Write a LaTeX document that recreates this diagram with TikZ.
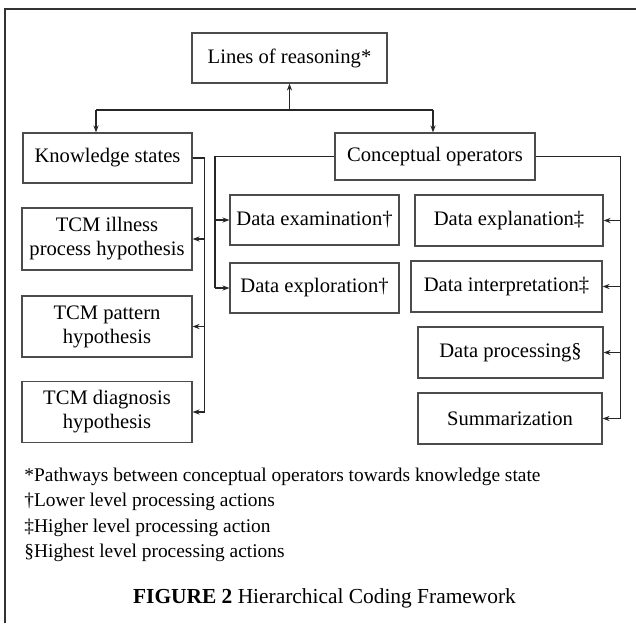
\documentclass[tikz,border=0pt]{standalone}
\usepackage{fontspec}
\setmainfont{Liberation Serif}
\usetikzlibrary{arrows.meta}

\tikzset{
  box/.style={draw=black!70, line width=0.6pt, align=center, inner sep=0.5pt,
    font=\fontsize{10.3}{12}\selectfont},
  link/.style={black!85, line width=0.55pt},
  note/.style={anchor=west, inner sep=0pt, font=\fontsize{9.7}{11.5}\selectfont}
}

\begin{document}
\begin{tikzpicture}[x=0.5pt, y=-0.5pt, >={Stealth[length=3.5pt, width=2.6pt]}]
    \useasboundingbox (0,0) rectangle (636,623);

    % Frame
    \draw[black!80, line width=0.6pt] (5,623) -- (5,9) -- (636,9);

    % Top level
    \node[box, minimum width=97.5pt, minimum height=25pt] (lines) at (289.5,58) {Lines of reasoning*};
    \node[box, minimum width=84.5pt, minimum height=25pt] (ks) at (107.5,158) {Knowledge states};
    \node[box, minimum width=100pt, minimum height=23.5pt] (co) at (435,156.5) {Conceptual operators};

    % Knowledge states column
    \node[box, minimum width=85pt, minimum height=31pt] (ill) at (107,239) {TCM illness\\process hypothesis};
    \node[box, minimum width=85pt, minimum height=30.5pt] (pat) at (107,326.5) {TCM pattern\\hypothesis};
    \node[box, minimum width=85pt, minimum height=30.5pt] (diag) at (107,412) {TCM diagnosis\\hypothesis};

    % Conceptual operators
    \node[box, minimum width=84.5pt, minimum height=25pt] (exam) at (314.5,220) {Data examination†};
    \node[box, minimum width=84.5pt, minimum height=25pt] (explor) at (314.5,288) {Data exploration†};
    \node[box, minimum width=94pt, minimum height=25.5pt] (expl) at (509,220.5) {Data explanation‡};
    \node[box, minimum width=95.5pt, minimum height=25.5pt] (interp) at (506.5,286.5) {Data interpretation‡};
    \node[box, minimum width=92.5pt, minimum height=25.5pt] (proc) at (510.5,352.5) {Data processing§};
    \node[box, minimum width=92pt, minimum height=25.5pt] (summ) at (510,418.5) {Summarization};

    % Hub under the title
    \coordinate (hubl) at (96,110);
    \coordinate (hubr) at (433,110);
    \draw[link] (hubl) -- (hubr);
    \draw[link, ->] (lines.south |- hubl) -- (lines.south);
    \draw[link, ->] (hubl) -- (hubl |- ks.north);
    \draw[link, ->] (hubr) -- (hubr |- co.north);

    % Spines
    \coordinate (lspine) at (204.5,0);
    \coordinate (mspine) at (215,0);
    \coordinate (rspine) at (620.5,0);

    \draw[link] (ks.east) -- (ks.east -| lspine) -- (lspine |- diag.east);
    \foreach \n in {ill, pat, diag}
      \draw[link, ->] (lspine |- \n.east) -- (\n.east);

    \draw[link] (co.west) -- (co.west -| mspine) -- (mspine |- explor.west);
    \foreach \n in {exam, explor}
      \draw[link, ->] (mspine |- \n.west) -- (\n.west);

    \draw[link] (co.east) -- (co.east -| rspine) -- (rspine |- summ.east);
    \foreach \n in {expl, interp, proc, summ}
      \draw[link, ->] (rspine |- \n.east) -- (\n.east);

    % Footnotes
    \node[note] (fn1) at (24,477) {*Pathways between conceptual operators towards knowledge state};
    \node[note] (fn2) at (24,502) {†Lower level processing actions};
    \node[note] (fn3) at (24,527.5) {‡Higher level processing action};
    \node[note] (fn4) at (24,553) {§Highest level processing actions};

    % Caption
    \node[font=\fontsize{10.7}{12.5}\selectfont] (cap) at (324.5,598) {\textbf{FIGURE 2} Hierarchical Coding Framework};
\end{tikzpicture}
\end{document}
